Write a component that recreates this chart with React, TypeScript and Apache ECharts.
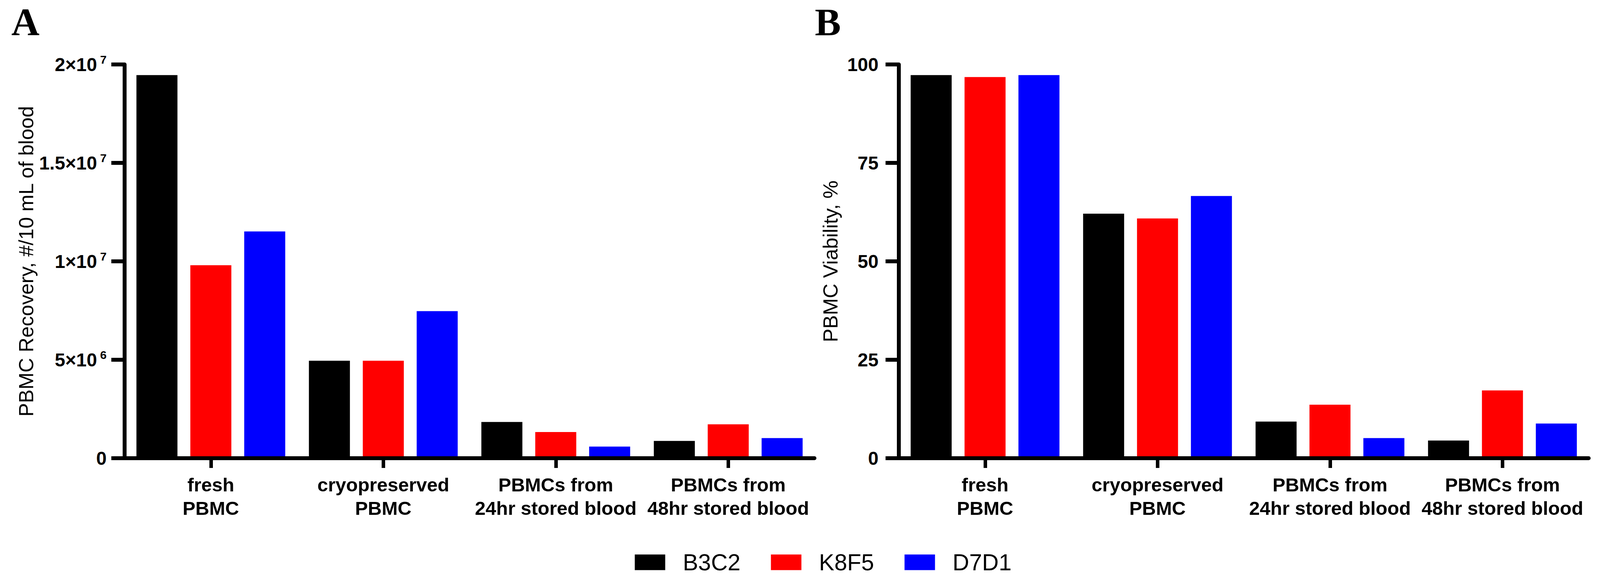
import React, { useEffect, useRef } from "react";
import * as echarts from "echarts";

const categories = [
  "fresh\nPBMC",
  "cryopreserved\nPBMC",
  "PBMCs from\n24hr stored blood",
  "PBMCs from\n48hr stored blood",
];
const seriesNames = ["B3C2", "K8F5", "D7D1"];
const seriesColors = ["#000000", "#FF0000", "#0000FF"];

// Panel A: PBMC Recovery, #/10 mL of blood
const recoveryB3C2 = [1.946e7, 4.95e6, 1.84e6, 0.88e6];
const recoveryK8F5 = [9.8e6, 4.95e6, 1.33e6, 1.72e6];
const recoveryD7D1 = [1.152e7, 7.47e6, 0.59e6, 1.02e6];

// Panel B: PBMC Viability, %
const viabilityB3C2 = [97.3, 62.1, 9.3, 4.5];
const viabilityK8F5 = [96.8, 60.9, 13.6, 17.2];
const viabilityD7D1 = [97.3, 66.6, 5.1, 8.8];

// tick labels for panel A: value -> [mantissa, exponent]
const recoveryTicks: Record<string, [string, string]> = {
  "0": ["0", ""],
  "5000000": ["5×10", "6"],
  "10000000": ["1×10", "7"],
  "15000000": ["1.5×10", "7"],
  "20000000": ["2×10", "7"],
};

const FONT = '"Liberation Sans", Arial, Helvetica, sans-serif';
const SERIF = '"Liberation Serif", "Times New Roman", serif';

export default function App() {
  const ref = useRef<HTMLDivElement>(null);

  useEffect(() => {
    document.body.style.margin = "0";
    if (!ref.current) return;
    const chart = echarts.init(ref.current, undefined, { renderer: "svg" });

    const axisLineStyle = { color: "#000", width: 10 };

    const xAxisBase = (gridIndex: number) => ({
      type: "category" as const,
      gridIndex,
      data: categories,
      boundaryGap: true,
      z: 5,
      axisLine: { show: true, lineStyle: axisLineStyle },
      axisTick: {
        show: true,
        alignWithLabel: true,
        length: 25,
        lineStyle: { color: "#000", width: 9 },
      },
      axisLabel: {
        interval: 0,
        margin: 38,
        color: "#000",
        fontFamily: FONT,
        fontWeight: "bold",
        fontSize: 49,
        lineHeight: 60,
        align: "center",
      },
      splitLine: { show: false },
    });

    const yRich = {
      b: {
        fontFamily: FONT,
        fontWeight: "bold",
        fontSize: 48,
        lineHeight: 56,
        color: "#000",
      },
      s: {
        fontFamily: FONT,
        fontWeight: "bold",
        fontSize: 30,
        lineHeight: 30,
        verticalAlign: "top",
        padding: [0, 0, 0, 8],
        color: "#000",
      },
    };

    const yAxisBase = (gridIndex: number) => ({
      type: "value" as const,
      gridIndex,
      min: 0,
      z: 5,
      axisLine: { show: true, lineStyle: axisLineStyle },
      axisTick: {
        show: true,
        length: 34,
        lineStyle: { color: "#000", width: 10 },
      },
      splitLine: { show: false },
      nameLocation: "middle" as const,
      nameTextStyle: {
        fontFamily: FONT,
        fontSize: 52,
        color: "#000",
      },
    });

    const bar = (name: string, data: number[], idx: number, color: string) => ({
      type: "bar" as const,
      name,
      data,
      xAxisIndex: idx,
      yAxisIndex: idx,
      barWidth: 105,
      barGap: "31.4%",
      itemStyle: { color },
    });

    const option = {
      animation: false,
      backgroundColor: "#ffffff",
      grid: [
        { left: 319, top: 165, width: 1766, height: 1008 },
        { left: 2301, top: 165, width: 1766, height: 1008 },
      ],
      legend: {
        data: seriesNames,
        left: 1620,
        top: 1405,
        icon: "rect",
        itemWidth: 78,
        itemHeight: 40,
        itemGap: 78,
        textStyle: {
          fontFamily: FONT,
          fontSize: 59,
          color: "#000",
          lineHeight: 40,
          padding: [0, 0, 0, 40],
        },
      },
      xAxis: [xAxisBase(0), xAxisBase(1)],
      yAxis: [
        {
          ...yAxisBase(0),
          max: 2e7,
          interval: 5e6,
          name: "PBMC Recovery, #/10 mL of blood",
          nameGap: 226,
          axisLabel: {
            margin: 46,
            formatter: (v: number) => {
              const t = recoveryTicks[String(v)];
              if (!t) return String(v);
              return t[1] ? `{b|${t[0]}}{s|${t[1]}}` : `{b|${t[0]}}`;
            },
            rich: yRich,
          },
        },
        {
          ...yAxisBase(1),
          max: 100,
          interval: 25,
          name: "PBMC Viability, %",
          nameGap: 149,
          axisLabel: {
            margin: 52,
            color: "#000",
            fontFamily: FONT,
            fontWeight: "bold",
            fontSize: 48,
          },
        },
      ],
      series: [
        bar(seriesNames[0], recoveryB3C2, 0, seriesColors[0]),
        bar(seriesNames[1], recoveryK8F5, 0, seriesColors[1]),
        bar(seriesNames[2], recoveryD7D1, 0, seriesColors[2]),
        bar(seriesNames[0], viabilityB3C2, 1, seriesColors[0]),
        bar(seriesNames[1], viabilityK8F5, 1, seriesColors[1]),
        bar(seriesNames[2], viabilityD7D1, 1, seriesColors[2]),
      ],
      graphic: [
        {
          type: "text",
          x: 29,
          y: 56,
          style: {
            text: "A",
            font: `bold 100px ${SERIF}`,
            fill: "#000",
            textAlign: "left",
            textVerticalAlign: "middle",
            verticalAlign: "middle",
          },
        },
        {
          type: "text",
          x: 2086,
          y: 56,
          style: {
            text: "B",
            font: `bold 100px ${SERIF}`,
            fill: "#000",
            textAlign: "left",
            textVerticalAlign: "middle",
            verticalAlign: "middle",
          },
        },
      ],
    };

    chart.setOption(option as any);
    return () => chart.dispose();
  }, []);

  return (
    <div
      ref={ref}
      style={{ position: "absolute", left: 0, top: 0, width: 4100, height: 1472, background: "#fff" }}
    />
  );
}
